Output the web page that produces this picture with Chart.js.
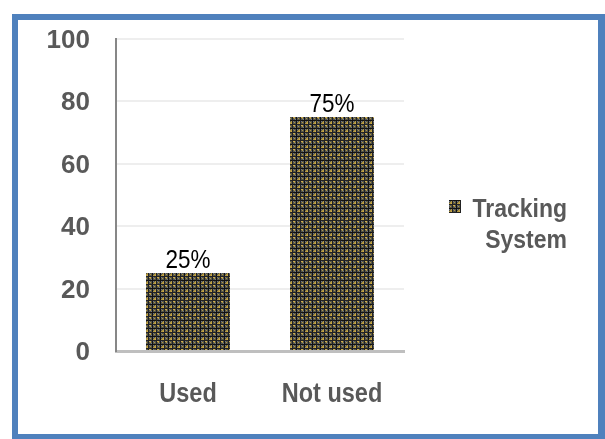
<!DOCTYPE html>
<html>
<head>
<meta charset="utf-8">
<script src="https://cdn.jsdelivr.net/npm/chart.js@4.4.1/dist/chart.umd.min.js"></script>
<style>
  html, body { margin: 0; padding: 0; background: #ffffff; }
  #frame {
    position: absolute; left: 12px; top: 14px; width: 580px; height: 414px;
    border: 6px solid #4f81bd; border-right-width: 8px; background: #fff;
  }
  #wrap { position: absolute; left: 0; top: 0; width: 605px; height: 439px; }
</style>
</head>
<body>
<div id="frame"></div>
<div id="wrap"><canvas id="c" width="605" height="439"></canvas></div>
<script>
// Survey results: use of a tracking system
const categories = ["Used", "Not used"];
const seriesName = ["Tracking", "System"];
const values = [25, 75];
const valueLabels = ["25%", "75%"];
const yTicks = [0, 20, 40, 60, 80, 100];

// Woven plaid fill for the bars
function makePlaid() {
  const t = document.createElement("canvas");
  t.width = 8; t.height = 8;
  const g = t.getContext("2d");
  g.fillStyle = "#55564c"; g.fillRect(0, 0, 8, 8);
  g.fillStyle = "#b3973f";
  g.fillRect(2, 2, 2, 2); g.fillRect(6, 6, 1, 1); g.fillRect(2, 6, 1, 1); g.fillRect(6, 2, 1, 1);
  g.fillRect(1, 3, 1, 1); g.fillRect(3, 1, 1, 1);
  g.fillStyle = "#cfae4c";
  g.fillRect(5, 5, 1, 1); g.fillRect(3, 3, 1, 1); g.fillRect(6, 5, 1, 1);
  g.fillStyle = "#111111";
  g.fillRect(0, 0, 8, 1); g.fillRect(0, 0, 1, 8);
  g.fillStyle = "#222222";
  g.fillRect(0, 4, 8, 1); g.fillRect(4, 0, 1, 8);
  g.fillStyle = "#707888";
  g.fillRect(1, 1, 1, 1); g.fillRect(5, 1, 1, 1); g.fillRect(1, 5, 1, 1); g.fillRect(7, 7, 1, 1);
  return g.createPattern(t, "repeat");
}
const plaid = makePlaid();
const grey = "#595959";
const FAMILY = "'Liberation Sans', Arial, sans-serif";

// Text drawn at a baseline, with an optional vertical stretch
function tallText(ctx, str, x, y, font, color, align, sy) {
  ctx.save();
  ctx.translate(x, y);
  ctx.scale(1, sy);
  ctx.font = font;
  ctx.fillStyle = color;
  ctx.textAlign = align;
  ctx.textBaseline = "alphabetic";
  ctx.fillText(str, 0, 0);
  ctx.restore();
}

// Axis labels, value labels above the bars and the side legend
const annotate = {
  id: "annotate",
  afterDraw(chart) {
    const ctx = chart.ctx;
    const xs = chart.scales.x, ys = chart.scales.y;
    // y tick labels
    ys.ticks.forEach(t => {
      tallText(ctx, String(t.value), 90, ys.getPixelForValue(t.value) + 9,
        "bold 26px " + FAMILY, grey, "right", 1);
    });
    // category labels
    categories.forEach((c, i) => {
      tallText(ctx, c, xs.getPixelForValue(i), 402, "bold 23.5px " + FAMILY, grey, "center", 1.18);
    });
    // value labels
    const meta = chart.getDatasetMeta(0);
    meta.data.forEach((bar, i) => {
      tallText(ctx, valueLabels[i], bar.x, bar.y - 5, "22.5px " + FAMILY, "#000", "center", 1.18);
    });
    // legend
    ctx.save();
    ctx.fillStyle = plaid;
    ctx.fillRect(449, 200, 12, 13);
    ctx.restore();
    tallText(ctx, seriesName[0], 567, 217, "bold 23px " + FAMILY, grey, "right", 1.1);
    tallText(ctx, seriesName[1], 567, 248, "bold 23px " + FAMILY, grey, "right", 1.1);
  }
};

new Chart(document.getElementById("c"), {
  type: "bar",
  data: {
    labels: categories,
    datasets: [{
      label: seriesName.join(" "),
      data: values,
      backgroundColor: plaid,
      borderWidth: 0,
      categoryPercentage: 1,
      barPercentage: 0.583
    }]
  },
  options: {
    responsive: false,
    animation: false,
    layout: { padding: { top: 39, right: 201, bottom: 0, left: 0 } },
    plugins: { legend: { display: false }, tooltip: { enabled: false } },
    scales: {
      x: {
        grid: { display: false, drawTicks: false },
        border: { color: "#bfbfbf", width: 3 },
        ticks: { display: false },
        afterFit(s) { s.height = 88; }
      },
      y: {
        min: 0, max: 100,
        afterBuildTicks(s) { s.ticks = yTicks.map(v => ({ value: v })); },
        grid: { color: "#eeeeee", lineWidth: 2, drawTicks: false },
        border: { color: "#878787", width: 2 },
        ticks: { display: false },
        afterFit(s) { s.width = 116; }
      }
    }
  },
  plugins: [annotate]
});
</script>
</body>
</html>
